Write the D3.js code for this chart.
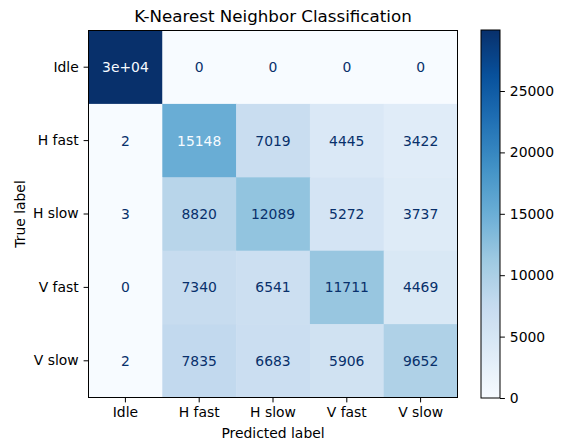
<!DOCTYPE html>
<html>
<head>
<meta charset="utf-8">
<script src="https://cdn.jsdelivr.net/npm/d3@7"></script>
<style>
  html, body { margin: 0; padding: 0; background: #fff; }
  svg { display: block; font-family: "DejaVu Sans", sans-serif; }
</style>
</head>
<body>
<svg id="chart" width="564" height="441"></svg>
<script>
// Class labels, shared by both axes
const classLabels = ["Idle", "H fast", "H slow", "V fast", "V slow"];

// Confusion matrix rows (true label) -> columns (predicted label)
const rowIdle  = [29968, 0, 0, 0, 0];
const rowHFast = [2, 15148, 7019, 4445, 3422];
const rowHSlow = [3, 8820, 12089, 5272, 3737];
const rowVFast = [0, 7340, 6541, 11711, 4469];
const rowVSlow = [2, 7835, 6683, 5906, 9652];
const matrix = [rowIdle, rowHFast, rowHSlow, rowVFast, rowVSlow];

// Colorbar tick values
const colorbarTicks = [0, 5000, 10000, 15000, 20000, 25000];

const titleText = "K-Nearest Neighbor Classification";
const xTitle = "Predicted label";
const yTitle = "True label";

// Blues ramp, linear between the nine ColorBrewer stops
const blues = ["#f7fbff","#deebf7","#c6dbef","#9ecae1","#6baed6","#4292c6","#2171b5","#08519c","#08306b"];

const svg = d3.select("#chart");
const m = { left: 88.5, top: 30.5, right: 457.5, bottom: 397.5 };

const allVals = matrix.flat();
const vmin = d3.min(allVals), vmax = d3.max(allVals);
const norm = d3.scaleLinear().domain([vmin, vmax]).range([0, 1]).clamp(true);
const ramp = d3.scaleLinear()
  .domain(blues.map((_, i) => i / (blues.length - 1)))
  .range(blues)
  .interpolate(d3.interpolateRgb);
const color = v => ramp(norm(v));

const x = d3.scaleBand().domain(classLabels).range([m.left, m.right]);
const y = d3.scaleBand().domain(classLabels).range([m.top, m.bottom]);

// Cell text: short general format unless the plain integer is shorter
function fmtCell(v) {
  const g = d3.format(".2")(v);
  let gs;
  if (v !== 0 && (Math.abs(v) >= 100)) {
    const e = Math.floor(Math.log10(Math.abs(v)));
    const mant = v / Math.pow(10, e);
    let ms = d3.format(".2")(mant);
    let ee = e;
    if (Math.abs(parseFloat(ms)) >= 10) { ms = d3.format(".2")(mant / 10); ee = e + 1; }
    gs = ms + "e+" + String(ee).padStart(2, "0");
  } else {
    gs = g;
  }
  const ds = String(Math.round(v));
  return ds.length < gs.length ? ds : gs;
}
const thresh = (vmax + vmin) / 2;

const cells = [];
matrix.forEach((row, i) => row.forEach((v, j) => cells.push({ r: classLabels[i], c: classLabels[j], v })));

svg.append("g").selectAll("rect").data(cells).join("rect")
  .attr("x", d => x(d.c))
  .attr("y", d => y(d.r))
  .attr("width", x.bandwidth() + 0.5)
  .attr("height", y.bandwidth() + 0.5)
  .attr("fill", d => color(d.v));

svg.append("g").selectAll("text").data(cells).join("text")
  .attr("x", d => x(d.c) + x.bandwidth() / 2)
  .attr("y", d => y(d.r) + y.bandwidth() / 2)
  .attr("text-anchor", "middle")
  .attr("dominant-baseline", "central")
  .attr("font-size", "13.9px")
  .attr("fill", d => d.v < thresh ? blues[8] : blues[0])
  .text(d => fmtCell(d.v));

// Axes
const fontPx = "13.9px";
const xAxis = svg.append("g")
  .attr("transform", `translate(0,${m.bottom})`)
  .call(d3.axisBottom(x).tickSize(4.9).tickPadding(4.9));
const yAxis = svg.append("g")
  .attr("transform", `translate(${m.left},0)`)
  .call(d3.axisLeft(y).tickSize(4.9).tickPadding(4.9));
[xAxis, yAxis].forEach(a => {
  a.select(".domain").remove();
  a.selectAll("text").attr("font-size", fontPx).attr("font-family", "DejaVu Sans").attr("fill", "#000");
  a.selectAll("line").attr("stroke", "#000").attr("stroke-width", 1);
});

// Frame around the matrix
svg.append("rect")
  .attr("x", m.left).attr("y", m.top)
  .attr("width", m.right - m.left).attr("height", m.bottom - m.top)
  .attr("fill", "none").attr("stroke", "#000").attr("stroke-width", 1);

// Titles
svg.append("text")
  .attr("x", (m.left + m.right) / 2).attr("y", 22)
  .attr("text-anchor", "middle").attr("font-size", "16.7px").attr("fill", "#000")
  .text(titleText);
svg.append("text")
  .attr("x", (m.left + m.right) / 2).attr("y", 438)
  .attr("text-anchor", "middle").attr("font-size", fontPx).attr("fill", "#000")
  .text(xTitle);
svg.append("text")
  .attr("transform", `translate(25,${(m.top + m.bottom) / 2}) rotate(-90)`)
  .attr("text-anchor", "middle").attr("font-size", fontPx).attr("fill", "#000")
  .text(yTitle);

// Colorbar
const cb = { left: 481, right: 500, top: 30, bottom: 398 };
const cbScale = d3.scaleLinear().domain([vmin, vmax]).range([cb.bottom, cb.top]);
const defs = svg.append("defs");
const grad = defs.append("linearGradient").attr("id", "cbgrad")
  .attr("x1", 0).attr("y1", 1).attr("x2", 0).attr("y2", 0);
d3.range(0, 1.0001, 0.02).forEach(t => {
  grad.append("stop").attr("offset", t).attr("stop-color", ramp(t));
});
svg.append("rect")
  .attr("x", cb.left).attr("y", cb.top)
  .attr("width", cb.right - cb.left).attr("height", cb.bottom - cb.top)
  .attr("fill", "url(#cbgrad)")
  .attr("stroke", "#000").attr("stroke-width", 1);
const cbAxis = svg.append("g")
  .attr("transform", `translate(${cb.right},0)`)
  .call(d3.axisRight(cbScale).tickValues(colorbarTicks).tickFormat(d3.format("d")).tickSize(4.9).tickPadding(4.9));
cbAxis.select(".domain").remove();
cbAxis.selectAll("text").attr("font-size", fontPx).attr("font-family", "DejaVu Sans").attr("fill", "#000");
cbAxis.selectAll("line").attr("stroke", "#000");
</script>
</body>
</html>
